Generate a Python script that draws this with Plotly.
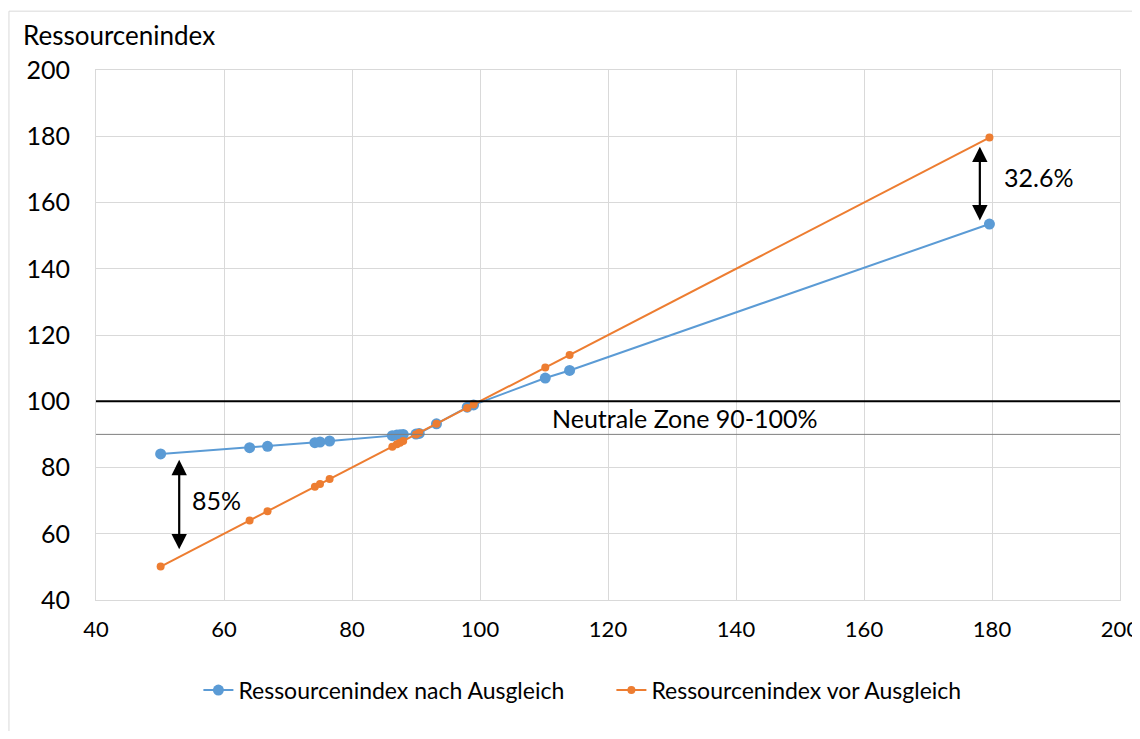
import plotly.graph_objects as go

# Data
x_values = [50.1, 64.0, 66.8, 74.2, 75.0, 76.5, 86.3, 87.0, 87.5, 88.0, 90.0, 90.5, 93.2, 98.0, 99.0, 110.2, 114.0, 179.6]
y_nach = [84.1, 86.0, 86.4, 87.5, 87.7, 88.0, 89.6, 89.8, 89.9, 90.0, 90.1, 90.3, 93.2, 98.2, 98.9, 107.0, 109.3, 153.5]
y_vor = [50.1, 64.0, 66.8, 74.2, 75.0, 76.5, 86.3, 87.0, 87.5, 88.0, 90.0, 90.5, 93.2, 98.0, 99.0, 110.2, 114.0, 179.6]
series_names = ["Ressourcenindex nach Ausgleich", "Ressourcenindex vor Ausgleich"]
x_ticks = [40, 60, 80, 100, 120, 140, 160, 180, 200]
y_ticks = [40, 60, 80, 100, 120, 140, 160, 180, 200]
zone_upper = 100
zone_lower = 90
zone_label = "Neutrale Zone 90-100%"
gap_low_label = "85%"
gap_high_label = "32.6%"
y_title = "Ressourcenindex"

FONT = "Lato"
BLUE = "#5b9bd5"
ORANGE = "#ed7d31"

fig = go.Figure()
fig.add_trace(go.Scatter(
    x=x_values, y=y_nach, mode="lines+markers", name=series_names[0],
    line=dict(color=BLUE, width=2), marker=dict(color=BLUE, size=11),
))
fig.add_trace(go.Scatter(
    x=x_values, y=y_vor, mode="lines+markers", name=series_names[1],
    line=dict(color=ORANGE, width=2), marker=dict(color=ORANGE, size=8),
))

# Neutral zone lines
fig.add_shape(type="line", xref="paper", yref="y", x0=0, x1=1, y0=zone_upper, y1=zone_upper,
              line=dict(color="black", width=2))
fig.add_shape(type="line", xref="paper", yref="y", x0=0, x1=1, y0=zone_lower, y1=zone_lower,
              line=dict(color="#7f7f7f", width=1))

# Outer frame (only top and left edges visible in the reference)
fig.add_shape(type="line", xref="paper", yref="paper", x0=-0.085, x1=1.05, y0=1.111, y1=1.111,
              line=dict(color="#d9d9d9", width=1), layer="below")
fig.add_shape(type="line", xref="paper", yref="paper", x0=-0.085, x1=-0.085, y0=1.111, y1=-0.3,
              line=dict(color="#d9d9d9", width=1), layer="below")

annotations = [
    dict(x=132, y=94.9, xref="x", yref="y", text=zone_label, showarrow=False,
         font=dict(family=FONT, size=25, color="black")),
    dict(x=58.9, y=70.3, xref="x", yref="y", text=gap_low_label, showarrow=False,
         font=dict(family=FONT, size=25, color="black")),
    dict(x=187.3, y=167.8, xref="x", yref="y", text=gap_high_label, showarrow=False,
         font=dict(family=FONT, size=25, color="black")),
    # double-headed arrows
    dict(x=53.0, y=55.3, ax=53.0, ay=82.8, xref="x", yref="y", axref="x", ayref="y", text="",
         showarrow=True, arrowhead=2, startarrowhead=2, arrowside="end+start",
         arrowwidth=2.2, arrowsize=1.4, startarrowsize=1.4, arrowcolor="black"),
    dict(x=178.1, y=154.6, ax=178.1, ay=177.3, xref="x", yref="y", axref="x", ayref="y", text="",
         showarrow=True, arrowhead=2, startarrowhead=2, arrowside="end+start",
         arrowwidth=2.2, arrowsize=1.4, startarrowsize=1.4, arrowcolor="black"),
    dict(x=-0.073, y=1.066, xref="paper", yref="paper", text=y_title, showarrow=False,
         xanchor="left", yanchor="middle", font=dict(family=FONT, size=26, color="black")),
]

fig.update_layout(
    width=1132, height=723,
    margin=dict(l=88, r=20, t=62, b=131, autoexpand=False),
    paper_bgcolor="white", plot_bgcolor="white",
    font=dict(family=FONT, color="black"),
    annotations=annotations,
    showlegend=True,
    legend=dict(orientation="h", x=0.1, xanchor="left", y=-0.17, yanchor="middle",
                font=dict(family=FONT, size=23, color="black"), itemwidth=30,
                entrywidth=368, entrywidthmode="pixels",
                traceorder="normal"),
)
fig.update_xaxes(range=[40, 200], tickvals=x_ticks, showgrid=True, gridcolor="#d9d9d9", gridwidth=1,
                 zeroline=False, showline=True, linecolor="#d9d9d9", mirror=True, automargin=False,
                 tickfont=dict(family=FONT, size=22, color="black"), ticks="", ticklen=0,
                 ticklabelstandoff=10, ticklabeloverflow="allow")
fig.update_yaxes(range=[40, 200], tickvals=y_ticks, showgrid=True, gridcolor="#d9d9d9", gridwidth=1,
                 zeroline=False, showline=True, linecolor="#d9d9d9", mirror=True, automargin=False,
                 tickfont=dict(family=FONT, size=25, color="black"), ticks="", ticklen=0,
                 ticklabelstandoff=20)

fig.write_html("out.html")
